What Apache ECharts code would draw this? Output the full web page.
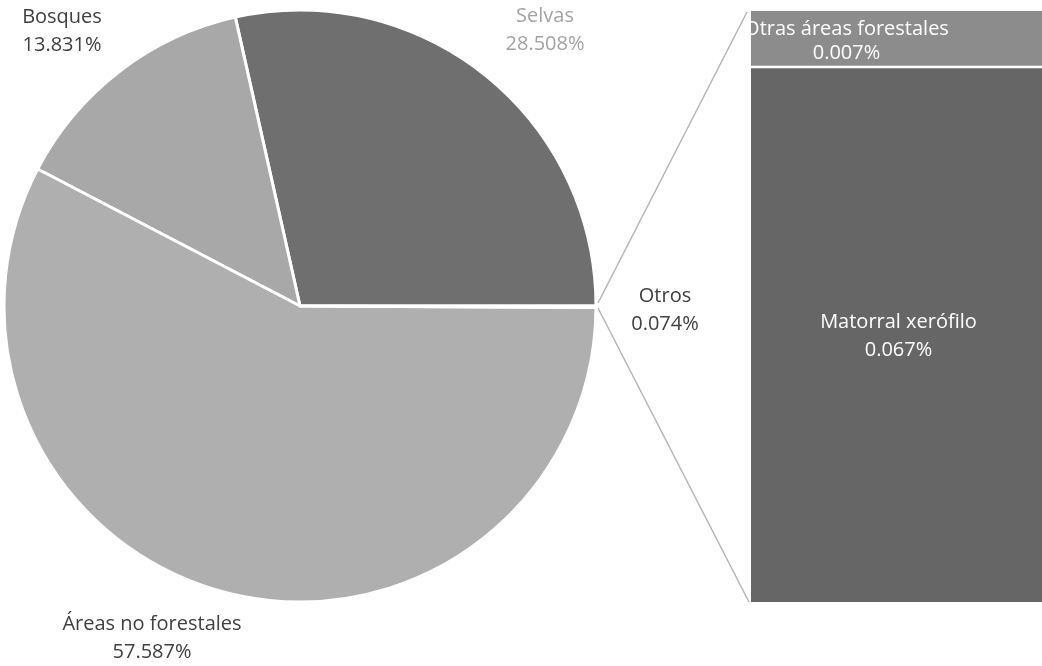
<!DOCTYPE html>
<html>
<head>
<meta charset="utf-8">
<script src="https://cdn.jsdelivr.net/npm/echarts@6/dist/echarts.min.js"></script>
<style>
  html, body { margin: 0; padding: 0; background: #fff; overflow: hidden; }
  #chart { width: 1042px; height: 666px; }
</style>
</head>
<body>
<div id="chart"></div>
<script>
// datos del pastel principal (porcentaje de superficie)
const pieNames = ['Selvas', 'Bosques', 'Áreas no forestales', 'Otros']
const pieValues = [28.508, 13.831, 57.587, 0.074]
const pieColors = ['#6f6f6f', '#a8a8a8', '#afafaf', '#8a8a8a']

// desglose de "Otros" en la barra de la derecha
const barNames = ['Matorral xerófilo', 'Otras áreas forestales']
const barValues = [0.067, 0.007]
const barColors = ['#666666', '#8c8c8c']

// geometria
const cx = 300, cy = 306, r = 296
const barLeft = 751, barTop = 11, barBottom = 602

// posiciones de las etiquetas del pastel
const labelPos = [
  [545, 30],
  [62, 31],
  [152, 638],
  [665, 310]
]

const chart = echarts.init(document.getElementById('chart'))

const font = '"Open Sans", sans-serif'

const option = {
  animation: false,
  grid: {
    left: barLeft,
    top: barTop,
    right: 0,
    height: barBottom - barTop
  },
  xAxis: {
    type: 'category',
    data: ['Otros'],
    show: false
  },
  yAxis: {
    type: 'value',
    min: 0,
    max: 0.074,
    show: false
  },
  series: [
    {
      type: 'pie',
      center: [cx, cy],
      radius: r,
      startAngle: 0,
      clockwise: false,
      data: pieNames.map((n, i) => ({
        name: n,
        value: pieValues[i],
        itemStyle: { color: pieColors[i] },
        label: { color: i === 0 ? '#a3a3a3' : '#404040' }
      })),
      itemStyle: { borderColor: '#fff', borderWidth: 3 },
      label: {
        show: true,
        position: 'outside',
        overflow: 'none',
        fontFamily: font,
        fontSize: 20,
        lineHeight: 28,
        formatter: (p) => p.name + '\n' + p.value.toFixed(3) + '%'
      },
      labelLine: { show: false },
      labelLayout: (params) => ({
        x: labelPos[params.dataIndex][0],
        y: labelPos[params.dataIndex][1],
        width: 300,
        align: 'center',
        verticalAlign: 'middle'
      })
    },
    {
      type: 'bar',
      name: barNames[0],
      stack: 'otros',
      barWidth: '100%',
      data: [barValues[0]],
      itemStyle: { color: barColors[0] },
      label: {
        show: true,
        position: 'inside',
        offset: [2, 2],
        color: '#fff',
        fontFamily: font,
        fontSize: 20,
        lineHeight: 28,
        formatter: () => barNames[0] + '\n' + barValues[0].toFixed(3) + '%'
      }
    },
    {
      type: 'bar',
      name: barNames[1],
      stack: 'otros',
      barWidth: '100%',
      data: [barValues[1]],
      itemStyle: { color: barColors[1] },
      label: {
        show: true,
        position: 'inside',
        offset: [-50, 2],
        color: '#fff',
        fontFamily: font,
        fontSize: 20,
        lineHeight: 24,
        formatter: () => barNames[1] + '\n' + barValues[1].toFixed(3) + '%'
      }
    }
  ],
  graphic: [
    // lineas que unen la rebanada "Otros" con la barra
    {
      type: 'line',
      shape: { x1: cx + r + 2, y1: cy - 3, x2: barLeft - 4, y2: barTop + 1 },
      style: { stroke: '#b5b5b5', lineWidth: 1.5 }
    },
    {
      type: 'line',
      shape: { x1: cx + r + 2, y1: cy + 2, x2: barLeft - 2, y2: barBottom },
      style: { stroke: '#b5b5b5', lineWidth: 1.5 }
    }
  ]
}

chart.setOption(option)

// linea blanca entre los dos segmentos, en la frontera de Matorral xerófilo
const sepY = chart.convertToPixel({ yAxisIndex: 0 }, barValues[0])
chart.setOption({
  graphic: [
    {},
    {},
    {
      type: 'line',
      z: 100,
      shape: { x1: barLeft, y1: sepY, x2: 1042, y2: sepY },
      style: { stroke: '#fff', lineWidth: 2.5 }
    }
  ]
})
</script>
</body>
</html>
